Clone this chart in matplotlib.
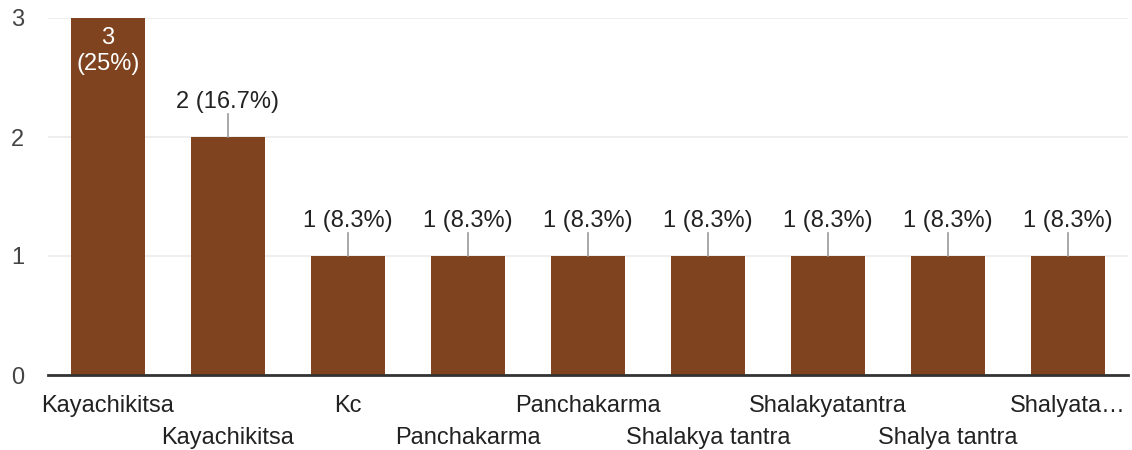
import matplotlib
matplotlib.use("Agg")
import matplotlib.pyplot as plt

categories = ["Kayachikitsa", "Kayachikitsa", "Kc", "Panchakarma", "Panchakarma",
              "Shalakya tantra", "Shalakyatantra", "Shalya tantra", "Shalyata…"]
values = [3, 2, 1, 1, 1, 1, 1, 1, 1]
percents = ["25%", "16.7%", "8.3%", "8.3%", "8.3%", "8.3%", "8.3%", "8.3%", "8.3%"]
yticks = [0, 1, 2, 3]

plt.rcParams['font.family'] = ['Liberation Sans', 'DejaVu Sans']
W, H = 1132, 450
fig = plt.figure(figsize=(W/100, H/100), dpi=100)
ax = fig.add_axes([48/W, 1-375/H, 1080/W, 357/H])

FS = 17
bar_color = "#7F431F"
text_color = "#222222"
x = list(range(len(categories)))
ax.bar(x, values, width=0.62, color=bar_color, zorder=2)
ax.set_xlim(-0.5, len(categories)-0.5)
ax.set_ylim(0, 3)
ax.set_yticks(yticks)
ax.set_yticklabels([str(t) for t in yticks], fontsize=FS, color="#444444")
ax.tick_params(axis='y', length=0, pad=24*0.72)
for lab in ax.get_yticklabels():
    lab.set_horizontalalignment('right')
ax.grid(axis='y', color="#ebebeb", linewidth=1.2, zorder=0)
for s in ['left', 'right', 'top']:
    ax.spines[s].set_visible(False)
ax.spines['bottom'].set_color("#333333")
ax.spines['bottom'].set_linewidth(2)
ax.spines['bottom'].set_zorder(3)

ax.set_xticks([])
upp = 3/357  # units per pixel
for i, (c, v, p) in enumerate(zip(categories, values, percents)):
    row_off_px = 31 if i % 2 == 0 else 63
    ax.annotate(c, xy=(i, 0), xytext=(0, -row_off_px*0.72), textcoords='offset points',
                ha='center', va='center', fontsize=FS, color=text_color,
                annotation_clip=False)
    if v == max(values):
        ax.text(i, v - 33*upp, f"{v}\n({p})", ha='center', va='center', fontsize=FS,
                color='white', linespacing=1.25, zorder=4)
    else:
        ax.plot([i, i], [v, v + 23*upp], color="#999999", linewidth=1.2, zorder=3)
        ax.text(i, v + 35*upp, f"{v} ({p})", ha='center', va='center', fontsize=FS,
                color=text_color, zorder=4)

fig.savefig("out.png", dpi=100)
